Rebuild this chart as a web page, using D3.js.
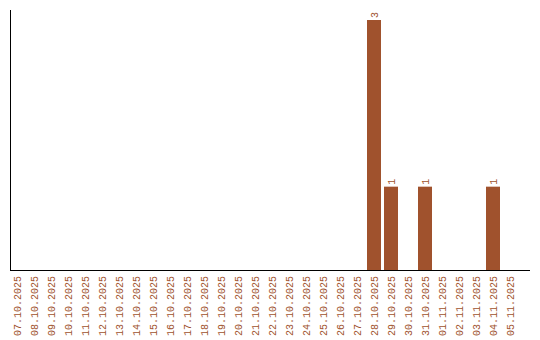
<!DOCTYPE html>
<html>
<head>
<meta charset="utf-8">
<script src="https://cdn.jsdelivr.net/npm/d3@7"></script>
<style>
  body { margin: 0; background: #fff; }
  text { font-family: "Liberation Mono", monospace; font-size: 10px; fill: #a0522d; }
</style>
</head>
<body>
<div id="chart"></div>
<script>
// data
var days = ['07.10.2025', '08.10.2025', '09.10.2025', '10.10.2025', '11.10.2025', '12.10.2025',
    '13.10.2025', '14.10.2025', '15.10.2025', '16.10.2025', '17.10.2025', '18.10.2025',
    '19.10.2025', '20.10.2025', '21.10.2025', '22.10.2025', '23.10.2025', '24.10.2025',
    '25.10.2025', '26.10.2025', '27.10.2025', '28.10.2025', '29.10.2025', '30.10.2025',
    '31.10.2025', '01.11.2025', '02.11.2025', '03.11.2025', '04.11.2025', '05.11.2025']
var counts = [0, 0, 0, 0, 0, 0, 0, 0, 0, 0, 0, 0, 0, 0, 0, 0, 0, 0, 0, 0,
    0, 3, 1, 0, 1, 0, 0, 0, 1, 0]

var width = 540
var height = 340
var left = 10
var bottom = 270
var top_ = 20

const svg = d3.select('#chart')
    .append('svg')
    .attr('width', width)
    .attr('height', height)

// step 17px, bar 14px
var x = d3.scaleBand()
    .domain(days)
    .range([left, left + 17 * days.length - 3])
    .paddingInner(3 / 17)
    .paddingOuter(0)

var y = d3.scaleLinear()
    .domain([0, d3.max(counts)])
    .range([bottom, top_])

var data = days.map((d, i) => ({ day: d, n: counts[i] }))

// bars
svg.selectAll('rect.bar')
    .data(data.filter(d => d.n > 0))
    .enter()
    .append('rect')
    .attr('class', 'bar')
    .attr('x', d => x(d.day))
    .attr('y', d => y(d.n))
    .attr('width', x.bandwidth())
    .attr('height', d => bottom - y(d.n))
    .attr('fill', '#a0522d')

// value labels
svg.selectAll('text.val')
    .data(data.filter(d => d.n > 0))
    .enter()
    .append('text')
    .attr('class', 'val')
    .attr('transform', d => `translate(${x(d.day) + x.bandwidth() / 2},${y(d.n) - 2}) rotate(-90)`)
    .attr('dy', '0.35em')
    .attr('text-anchor', 'start')
    .text(d => d.n)

// axes
svg.append('line')
    .attr('x1', left + 0.5).attr('x2', left + 0.5)
    .attr('y1', 10).attr('y2', bottom)
    .attr('stroke', '#000')

svg.append('line')
    .attr('x1', left).attr('x2', 530)
    .attr('y1', bottom + 0.5).attr('y2', bottom + 0.5)
    .attr('stroke', '#000')

var xAxis = svg.append('g')
    .attr('transform', `translate(0,${bottom})`)
    .call(d3.axisBottom(x).tickSize(0).tickPadding(0))
xAxis.select('.domain').remove()
xAxis.selectAll('text')
    .attr('transform', 'translate(0,6) rotate(-90)')
    .attr('x', 0)
    .attr('y', 0)
    .attr('dy', '0.35em')
    .attr('text-anchor', 'end')
    .attr('fill', null)
    .style('font-family', '"Liberation Mono", monospace')
    .style('font-size', '10px')
</script>
</body>
</html>
